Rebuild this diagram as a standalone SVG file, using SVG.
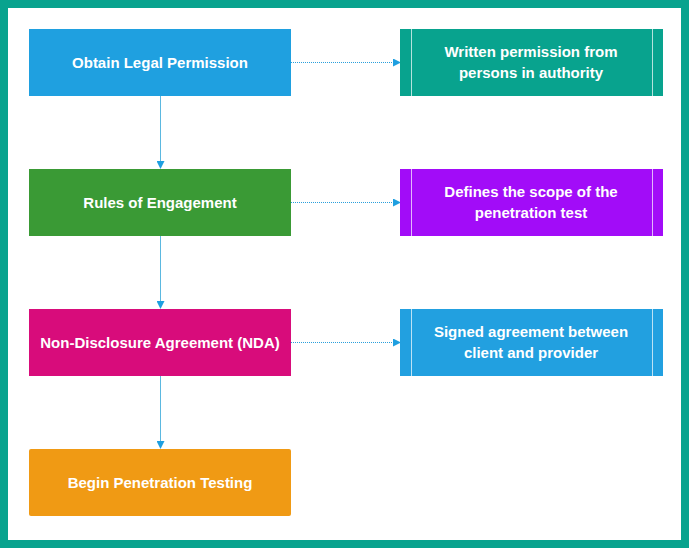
<svg xmlns="http://www.w3.org/2000/svg" width="689" height="548" viewBox="0 0 689 548">
<defs>
<style>
.t{font-family:"Liberation Sans",Arial,sans-serif;font-weight:bold;font-size:15px;fill:#fff;text-anchor:middle}
.c{stroke:#5BB8E0;stroke-width:1;fill:none}
.d{stroke:#2AA0DC;stroke-width:1;stroke-dasharray:1 1;fill:none}
.sep{stroke:#fff;stroke-width:1;opacity:0.7}
</style>
<marker id="ah" viewBox="0 0 8 8" refX="7" refY="4" markerWidth="8" markerHeight="8" orient="auto" markerUnits="userSpaceOnUse">
<path d="M0,0 L8,4 L0,8 Z" fill="#1E9FE0"/>
</marker>
</defs>
<rect x="0" y="0" width="689" height="548" fill="#08A38E"/>
<rect x="8" y="8" width="673" height="532" fill="#fff"/>
<g id="connectors">
<line class="c" x1="160.5" y1="96" x2="160.5" y2="168" marker-end="url(#ah)"/>
<line class="c" x1="160.5" y1="236" x2="160.5" y2="308" marker-end="url(#ah)"/>
<line class="c" x1="160.5" y1="376" x2="160.5" y2="448" marker-end="url(#ah)"/>
<line class="d" x1="291" y1="62.5" x2="400" y2="62.5" marker-end="url(#ah)"/>
<line class="d" x1="291" y1="202.5" x2="400" y2="202.5" marker-end="url(#ah)"/>
<line class="d" x1="291" y1="342.5" x2="400" y2="342.5" marker-end="url(#ah)"/>
</g>
<g id="obtain">
<rect x="29" y="29" width="262" height="67" fill="#1FA0E0"/>
<text class="t" x="160" y="67.5">Obtain Legal Permission</text>
</g>
<g id="rules">
<rect x="29" y="169" width="262" height="67" fill="#3A9A35"/>
<text class="t" x="160" y="207.5">Rules of Engagement</text>
</g>
<g id="nda">
<rect x="29" y="309" width="262" height="67" fill="#D80C7B"/>
<text class="t" x="160" y="347.5">Non-Disclosure Agreement (NDA)</text>
</g>
<g id="begin">
<rect x="29" y="449" width="262" height="67" rx="2" fill="#F09A14"/>
<text class="t" x="160" y="487.5">Begin Penetration Testing</text>
</g>
<g id="written">
<rect x="400" y="29" width="263" height="67" fill="#08A38E"/>
<line class="sep" x1="411.5" y1="29" x2="411.5" y2="96"/>
<line class="sep" x1="652.5" y1="29" x2="652.5" y2="96"/>
<text class="t" x="531" y="57">Written permission from</text>
<text class="t" x="531" y="78">persons in authority</text>
</g>
<g id="defines">
<rect x="400" y="169" width="263" height="67" fill="#A20CF8"/>
<line class="sep" x1="411.5" y1="169" x2="411.5" y2="236"/>
<line class="sep" x1="652.5" y1="169" x2="652.5" y2="236"/>
<text class="t" x="531" y="197">Defines the scope of the</text>
<text class="t" x="531" y="218">penetration test</text>
</g>
<g id="signed">
<rect x="400" y="309" width="263" height="67" fill="#22A0E0"/>
<line class="sep" x1="411.5" y1="309" x2="411.5" y2="376"/>
<line class="sep" x1="652.5" y1="309" x2="652.5" y2="376"/>
<text class="t" x="531" y="337">Signed agreement between</text>
<text class="t" x="531" y="358">client and provider</text>
</g>
</svg>
